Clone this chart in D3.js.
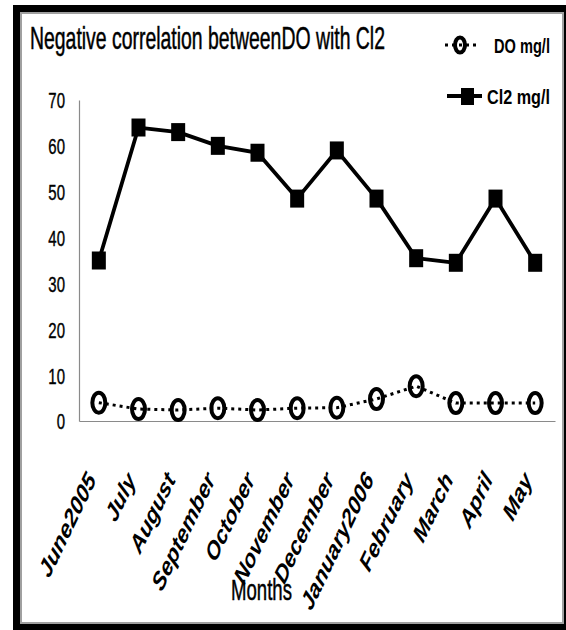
<!DOCTYPE html>
<html><head><meta charset="utf-8">
<script src="https://cdn.jsdelivr.net/npm/d3@7"></script>
<style>html,body{margin:0;padding:0;background:#fff;}svg{display:block;}</style>
</head><body>
<script>
const months = ["June2005","July","August","September","October","November","December","January2006","February","March","April","May"];
const cl2Values = [35, 64, 63, 60, 58.5, 48.5, 59, 48.5, 35.5, 34.5, 48.5, 34.5];
const doValues = [4, 2.6, 2.4, 2.8, 2.4, 2.8, 2.9, 4.8, 7.6, 3.9, 3.9, 3.9];
const yTicks = [0, 10, 20, 30, 40, 50, 60, 70];
const titleText = "Negative correlation betweenDO with Cl2";
const xTitle = "Months";
const seriesNames = ["DO mg/l", "Cl2 mg/l"];

const W = 566, H = 630;
const FONT = "'Liberation Sans', Arial, sans-serif";
const svg = d3.select("body").append("svg").attr("width", W).attr("height", H);

// frame
svg.append("rect").attr("x",0).attr("y",0).attr("width",W).attr("height",H).attr("fill","#fff");
svg.append("rect").attr("x",13).attr("y",5).attr("width",W).attr("height",H).attr("fill","#000");
svg.append("rect").attr("x",21).attr("y",13).attr("width",542).attr("height",610)
  .attr("fill","#fff").attr("stroke","#a0a0a0").attr("stroke-width",2);

const x = d3.scalePoint().domain(months).range([79, 555]).padding(0.5);
const y = d3.scaleLinear().domain([0, 70]).range([421, 100]);

// fit a text horizontally to a target width by scaling it (narrow look)
function fitText(sel, tx, ty, target) {
  sel.attr("x", 0).attr("y", 0);
  const w = sel.node().getComputedTextLength();
  sel.attr("transform", `translate(${tx},${ty}) scale(${target / w},1)`);
  return sel;
}

// axes
const yAxis = svg.append("g").attr("transform","translate(79,0)")
  .call(d3.axisLeft(y).tickValues(yTicks).tickSize(0).tickFormat(d3.format("d")));
yAxis.select(".domain").attr("stroke","#8a8a8a").attr("stroke-width",1.2);
yAxis.selectAll("text").attr("font-family",FONT).attr("font-size",22).attr("fill","#000")
  .attr("stroke","#000").attr("stroke-width",0.4)
  .attr("x", -14/0.68).attr("dy","0.36em").attr("transform","scale(0.68,1)");

const xAxis = svg.append("g").attr("transform","translate(0,421)")
  .call(d3.axisBottom(x).tickSize(0).tickFormat(""));
xAxis.select(".domain").attr("stroke","#8a8a8a").attr("stroke-width",1.2);

// x labels
svg.append("g").selectAll("text").data(months).join("text")
  .attr("transform", d => `translate(${x(d)-2},${480}) scale(0.74,1) rotate(-57)`)
  .attr("text-anchor","end")
  .attr("font-family",FONT).attr("font-size",26).attr("font-weight","bold").attr("font-style","italic")
  .attr("fill","#000")
  .text(d => d);

// Cl2 line
const line = d3.line().x((d,i)=>x(months[i])).y(d=>y(d));
svg.append("path").datum(cl2Values).attr("d",line).attr("fill","none")
  .attr("stroke","#000").attr("stroke-width",3.8).attr("stroke-linejoin","round");
svg.append("g").selectAll("rect").data(cl2Values).join("rect")
  .attr("x",(d,i)=>x(months[i])-7).attr("y",d=>y(d)-9)
  .attr("width",14).attr("height",18).attr("fill","#000");

// DO line
svg.append("path").datum(doValues).attr("d",line).attr("fill","none")
  .attr("stroke","#000").attr("stroke-width",3).attr("stroke-dasharray","3,4");
svg.append("g").selectAll("ellipse").data(doValues).join("ellipse")
  .attr("cx",(d,i)=>x(months[i])).attr("cy",d=>y(d))
  .attr("rx",6.5).attr("ry",10).attr("fill","none").attr("stroke","#000").attr("stroke-width",4);

// title
fitText(svg.append("text").attr("font-family",FONT).attr("font-size",31)
  .attr("stroke","#000").attr("stroke-width",0.5).attr("fill","#000").text(titleText), 30, 49, 355);

// x title
fitText(svg.append("text").attr("font-family",FONT).attr("font-size",30)
  .attr("stroke","#000").attr("stroke-width",0.5).attr("fill","#000").text(xTitle), 231, 600, 61);

// legend
const lg = svg.append("g");
lg.append("line").attr("x1",445).attr("x2",478).attr("y1",45).attr("y2",45)
  .attr("stroke","#000").attr("stroke-width",3).attr("stroke-dasharray","3,4");
lg.append("ellipse").attr("cx",460).attr("cy",45).attr("rx",5).attr("ry",7.5)
  .attr("fill","none").attr("stroke","#000").attr("stroke-width",4);
fitText(lg.append("text").attr("font-family",FONT).attr("font-size",21).attr("font-weight","bold")
  .attr("fill","#000").text(seriesNames[0]), 494, 53, 56);
lg.append("line").attr("x1",447).attr("x2",482).attr("y1",96).attr("y2",96)
  .attr("stroke","#000").attr("stroke-width",3.8);
lg.append("rect").attr("x",461).attr("y",88).attr("width",13).attr("height",17).attr("fill","#000");
fitText(lg.append("text").attr("font-family",FONT).attr("font-size",21).attr("font-weight","bold")
  .attr("fill","#000").text(seriesNames[1]), 487, 104, 63);
</script>
</body></html>
